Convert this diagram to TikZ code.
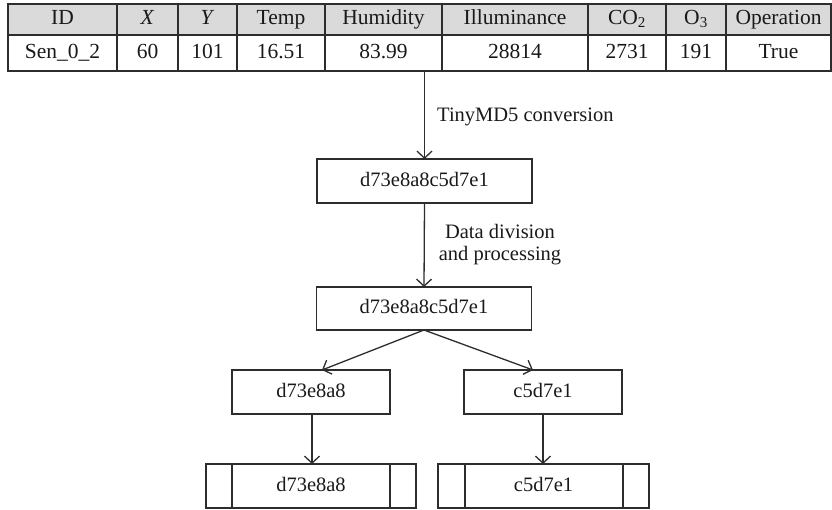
\documentclass[tikz,border=0pt]{standalone}
\usepackage{fontspec}
\setmainfont{Liberation Serif}
\usetikzlibrary{arrows.meta}
\definecolor{linegray}{RGB}{45,45,45}
\definecolor{headfill}{RGB}{218,218,218}
\begin{document}
\begin{tikzpicture}[x=1pt,y=-1pt,
  txt/.style={font=\fontsize{20.5}{22}\selectfont, text=black!90, inner sep=0pt},
  tabtxt/.style={font=\fontsize{21.5}{23}\selectfont, text=black!90, inner sep=0pt,
    text height=14.5pt, text depth=4.5pt},
  cell/.style={draw=linegray, line width=1.3pt, inner sep=0pt, outer sep=0pt},
  hashbox/.style={draw=linegray, line width=1.3pt, inner sep=0pt, outer sep=0pt,
    minimum height=44pt, font=\fontsize{20.5}{22}\selectfont, text=black!90,
    text height=14pt, text depth=4pt},
  flow/.style={draw=linegray, line width=1.3pt, -{Straight Barb[length=7pt,width=15pt,line width=1.3pt]}}
]
\useasboundingbox (0,0) rectangle (832,509);

% sensor record table: header row and value row
\foreach \i/\l/\r/\head/\val in {
  1/8/117/ID/Sen\_0\_2,
  2/117/178/\textit{X}/60,
  3/178/237/\textit{Y}/101,
  4/237/325/Temp/16.51,
  5/325/442/Humidity/83.99,
  6/442/588/Illuminance/28814,
  7/588/666/CO\textsubscript{2}/2731,
  8/666/726/O\textsubscript{3}/191,
  9/726/831/Operation/True} {
  \pgfmathsetmacro{\w}{\r-\l}
  \pgfmathsetmacro{\c}{(\r+\l)/2}
  \node[cell, tabtxt, fill=headfill, minimum width=\w pt, minimum height=31pt]
    (h\i) at (\c,19.5) {\head};
  \node[cell, tabtxt, minimum width=\w pt, minimum height=36pt]
    (v\i) at (\c,53) {\val};
}

% hash stages
\node[hashbox, minimum width=215pt] (full) at (424.5,181) {d73e8a8c5d7e1};
\node[hashbox, minimum width=215pt, minimum height=43pt] (split) at (424,308.5) {d73e8a8c5d7e1};
\node[hashbox, minimum width=158pt] (left) at (311,392) {d73e8a8};
\node[hashbox, minimum width=158pt] (right) at (543,392) {c5d7e1};
\node[hashbox, minimum width=210pt] (leftblk) at (311,486) {d73e8a8};
\node[hashbox, minimum width=211pt] (rightblk) at (543.5,486) {c5d7e1};

% side cells of the stored blocks
\draw[linegray, line width=1.3pt]
  ([xshift=26pt]leftblk.north west) -- ([xshift=26pt]leftblk.south west)
  ([xshift=-26pt]leftblk.north east) -- ([xshift=-26pt]leftblk.south east)
  ([xshift=27pt]rightblk.north west) -- ([xshift=27pt]rightblk.south west)
  ([xshift=-26pt]rightblk.north east) -- ([xshift=-26pt]rightblk.south east);

% step labels
\node[txt, anchor=west] (conv) at (437,117) {TinyMD5 conversion};
\node[txt, align=center] (divide) at (500,245) {Data division\\and processing};

% connectors
\draw[flow] (full.north |- v5.south) -- (full.north);
\draw[flow] (full.south) -- (split.north);
\draw[flow] (split.south) -- ([xshift=11pt]left.north);
\draw[flow] (split.south) -- ([xshift=-10pt]right.north);
\draw[flow] ([xshift=1pt]left.south) -- ([xshift=1pt]leftblk.north);
\draw[flow] (right.south) -- (right.south |- rightblk.north);
\end{tikzpicture}
\end{document}
